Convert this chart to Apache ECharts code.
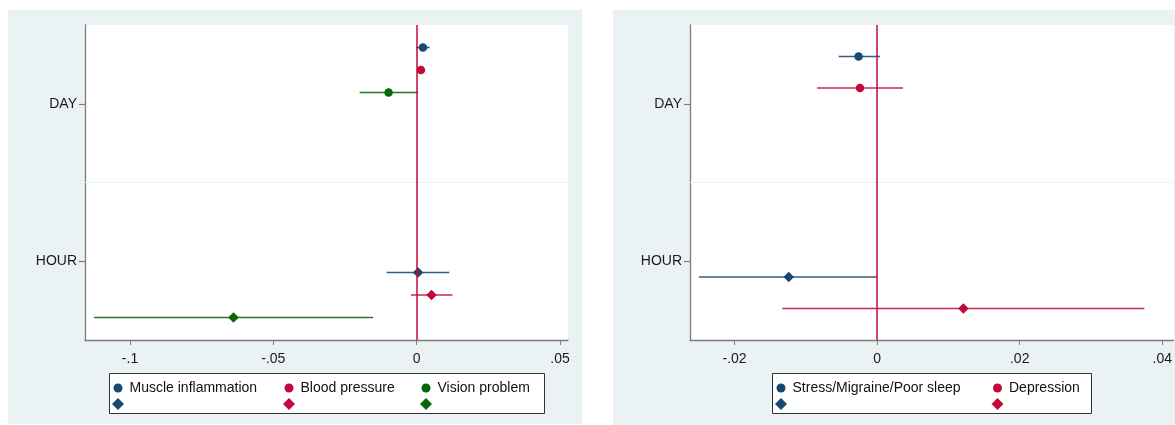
<!DOCTYPE html>
<html>
<head>
<meta charset="utf-8">
<title>Coefficient plot: DAY and HOUR effects</title>
<script src="https://cdn.jsdelivr.net/npm/echarts@6/dist/echarts.min.js"></script>
<style>
  html, body { margin: 0; padding: 0; background: #ffffff; }
  #chart { width: 1175px; height: 425px; }
</style>
</head>
<body>
<div id="chart"></div>
<script>
// ---- data ---------------------------------------------------------------
const periods = ['DAY', 'HOUR'];

// Left panel: physical outcomes
const leftOutcomes = ['Muscle inflammation', 'Blood pressure', 'Vision problem'];
const leftDayEst  = [0.0022, 0.0015, -0.0098];
const leftDayLo   = [-0.0002, 0.0008, -0.0199];
const leftDayHi   = [0.0045, 0.0022, 0.0005];
const leftHourEst = [0.0005, 0.0052, -0.0639];
const leftHourLo  = [-0.0105, -0.0020, -0.1126];
const leftHourHi  = [0.0114, 0.0125, -0.0152];
const leftTicks   = [-0.1, -0.05, 0, 0.05];

// Right panel: mental-health outcomes
const rightOutcomes = ['Stress/Migraine/Poor sleep', 'Depression'];
const rightDayEst  = [-0.0026, -0.0024];
const rightDayLo   = [-0.0054, -0.0084];
const rightDayHi   = [0.0004, 0.0036];
const rightHourEst = [-0.0124, 0.0121];
const rightHourLo  = [-0.0250, -0.0133];
const rightHourHi  = [0.0000, 0.0375];
const rightTicks   = [-0.02, 0, 0.02, 0.04];

// ---- styling ------------------------------------------------------------
const FONT = '"Liberation Sans", Arial, Helvetica, sans-serif';
const NAVY = '#1a476f';
const CRIMSON = '#c4083b';
const DKGREEN = '#066806';
const seriesColors = [NAVY, CRIMSON, DKGREEN];
const AXIS_GREY = '#7c7c7c';
const PANEL_BG = '#eaf2f3';

// Stata-style numeric labels: -.05, 0, .02 ...
function stataNum(v) {
  if (Math.abs(v) < 1e-12) return '0';
  return String(+v.toFixed(4)).replace('0.', '.');
}

// Vertical slot for series i of n inside a period band
function slot(periodIdx, i, n) {
  const step = 1 / (2 * n + 1);
  return periodIdx === 0
    ? 1 - (n - 0.5 - i) * step
    : 2 + (i + 0.5) * step;
}

const series = [];
const legends = [];

function ciSeries(name, gridIdx, color, rows) {
  return {
    type: 'custom',
    name: name,
    xAxisIndex: gridIdx,
    yAxisIndex: gridIdx,
    z: 3,
    silent: true,
    encode: { x: [0, 1], y: 2 },
    data: rows,
    renderItem: function (params, api) {
      const a = api.coord([api.value(0), api.value(2)]);
      const b = api.coord([api.value(1), api.value(2)]);
      return {
        type: 'line',
        shape: { x1: a[0], y1: a[1], x2: b[0], y2: b[1] },
        style: { stroke: color, lineWidth: 1.7, opacity: 0.88 }
      };
    }
  };
}

function buildPanel(gridIdx, outcomes, est, lo, hi, legendX) {
  // reference lines: zero line and the band separator
  series.push({
    type: 'line',
    name: 'ref' + gridIdx,
    xAxisIndex: gridIdx,
    yAxisIndex: gridIdx,
    data: [],
    z: 1,
    markLine: {
      silent: true,
      symbol: ['none', 'none'],
      label: { show: false },
      animation: false,
      data: [
        { yAxis: 1.5, lineStyle: { color: PANEL_BG, width: 1.2, type: 'solid' } },
        { xAxis: 0, lineStyle: { color: CRIMSON, width: 1.5, type: 'solid' } }
      ]
    }
  });
  outcomes.forEach(function (name, i) {
    const color = seriesColors[i];
    [0, 1].forEach(function (p) {
      const y = slot(p, i, outcomes.length);
      const sName = p === 0 ? name : name + ' (' + periods[1] + ')';
      series.push(ciSeries(sName + ' CI', gridIdx, color, [[lo[p][i], hi[p][i], y]]));
      series.push({
        type: 'scatter',
        name: sName,
        xAxisIndex: gridIdx,
        yAxisIndex: gridIdx,
        z: 4,
        symbol: p === 0 ? 'circle' : 'diamond',
        symbolSize: p === 0 ? 8.5 : 10.5,
        itemStyle: { color: color, opacity: 1 },
        data: [[est[p][i], y]]
      });
      const icon = p === 0 ? 9 : 12;
      legends.push({
        left: legendX[i] - icon / 2,
        top: p === 0 ? 380 : 404 - icon / 2,
        orient: 'horizontal',
        padding: 0,
        itemWidth: icon,
        itemHeight: icon,
        selectedMode: false,
        data: [{ name: sName, icon: p === 0 ? 'circle' : 'diamond' }],
        formatter: p === 0 ? '{name}' : function () { return ''; },
        textStyle: { fontFamily: FONT, fontSize: 14, color: '#111', lineHeight: 16, padding: [0, 0, 0, 2] }
      });
    });
  });
}

buildPanel(0, leftOutcomes,
  [leftDayEst, leftHourEst], [leftDayLo, leftHourLo], [leftDayHi, leftHourHi],
  [118, 289, 426]);
buildPanel(1, rightOutcomes,
  [rightDayEst, rightHourEst], [rightDayLo, rightHourLo], [rightDayHi, rightHourHi],
  [781, 997.5]);

function xAxisFor(gridIdx, min, max, ticks) {
  return {
    type: 'value',
    gridIndex: gridIdx,
    min: min,
    max: max,
    splitLine: { show: false },
    axisLine: { show: true, onZero: false, lineStyle: { color: AXIS_GREY, width: 1.3 } },
    axisTick: { show: true, length: 5, customValues: ticks, lineStyle: { color: AXIS_GREY, width: 1 } },
    axisLabel: {
      customValues: ticks,
      formatter: stataNum,
      margin: 12,
      fontFamily: FONT,
      fontSize: 14,
      color: '#1a1a1a'
    }
  };
}

function yAxisFor(gridIdx) {
  return {
    type: 'value',
    gridIndex: gridIdx,
    inverse: true,
    min: 0.5,
    max: 2.5,
    splitLine: { show: false },
    axisLine: { show: true, onZero: false, lineStyle: { color: AXIS_GREY, width: 1.3 } },
    axisTick: { show: true, length: 6, customValues: [1, 2], lineStyle: { color: AXIS_GREY, width: 1.2 } },
    axisLabel: {
      customValues: [1, 2],
      formatter: function (v) { return periods[Math.round(v) - 1]; },
      margin: 8,
      fontFamily: FONT,
      fontSize: 14,
      color: '#1a1a1a'
    }
  };
}

const option = {
  animation: false,
  backgroundColor: '#ffffff',
  textStyle: { fontFamily: FONT },
  graphic: [
    // panel backgrounds
    { type: 'rect', z: -100, silent: true, shape: { x: 8, y: 10, width: 574, height: 414 }, style: { fill: PANEL_BG } },
    { type: 'rect', z: -100, silent: true, shape: { x: 613, y: 10, width: 600, height: 415 }, style: { fill: PANEL_BG } },
    // legend frames
    { type: 'rect', z: 1, silent: true, shape: { x: 109.5, y: 373.5, width: 435, height: 40 }, style: { fill: '#ffffff', stroke: '#333', lineWidth: 1 } },
    { type: 'rect', z: 1, silent: true, shape: { x: 772.5, y: 373.5, width: 319, height: 40 }, style: { fill: '#ffffff', stroke: '#333', lineWidth: 1 } }
  ],
  grid: [
    { left: 85, top: 25, width: 483, height: 315, show: true, backgroundColor: '#ffffff', borderWidth: 0, containLabel: false },
    { left: 690, top: 25, width: 485, height: 315, show: true, backgroundColor: '#ffffff', borderWidth: 0, containLabel: false }
  ],
  xAxis: [
    xAxisFor(0, -0.1157, 0.0528, leftTicks),
    xAxisFor(1, -0.02625, 0.0416, rightTicks)
  ],
  yAxis: [yAxisFor(0), yAxisFor(1)],
  legend: legends,
  series: series
};

const chart = echarts.init(document.getElementById('chart'), null, { renderer: 'canvas' });
chart.setOption(option);
</script>
</body>
</html>
